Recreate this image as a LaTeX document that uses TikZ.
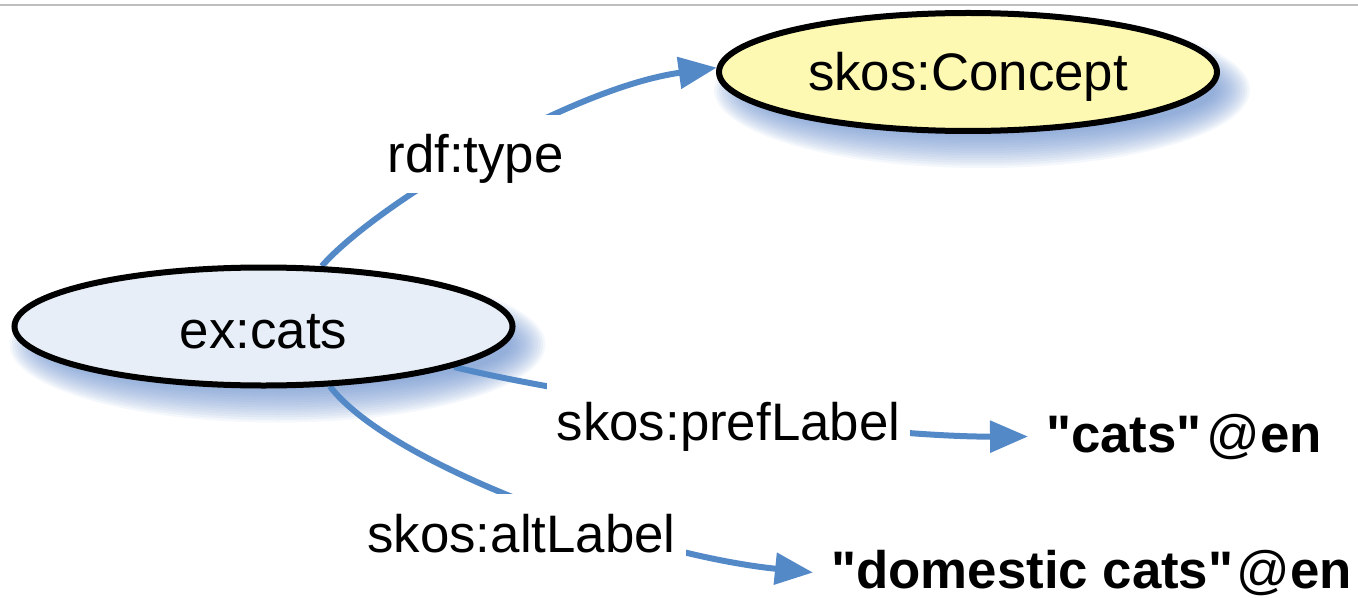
\documentclass[tikz,border=0pt]{standalone}
\usepackage{fontspec}
\newfontfamily\helv{Liberation Sans}
\usetikzlibrary{shapes.geometric,arrows.meta}
\pgfdeclarelayer{shadowlayer}
\pgfdeclarelayer{edgelayer}
\pgfsetlayers{shadowlayer,edgelayer,main}
\definecolor{edgeblue}{RGB}{84,137,200}
\definecolor{shadowblue}{RGB}{95,135,200}
\definecolor{conceptfill}{RGB}{253,249,178}
\definecolor{resfill}{RGB}{232,238,247}
\definecolor{rulegray}{RGB}{190,190,190}
\begin{document}
\begin{tikzpicture}[x=1bp,y=-1bp,
  every node/.style={font=\helv\fontsize{53}{60}\selectfont},
  resource/.style={ellipse, draw=black, line width=6bp, inner sep=0pt,
    minimum width=498bp, minimum height=118bp},
  proplabel/.style={fill=white, inner xsep=10bp, inner ysep=8bp,
    text height=50bp, text depth=12bp},
  literal/.style={inner xsep=18bp, inner ysep=0pt,
    font=\helv\bfseries\fontsize{53}{60}\selectfont},
  relation/.style={draw=edgeblue, line width=6bp},
  arrowrel/.style={relation, -{Triangle[length=38bp,width=31bp]}}]
\useasboundingbox (0,0) rectangle (1358,598);
\draw[rulegray, line width=2bp] (0,5) -- (1358,5);

% resources
\node[resource, fill=conceptfill, text height=38bp, text depth=0pt] (concept) at (968,72) {skos:Concept};
\node[resource, fill=resfill, text height=44bp, text depth=0pt] (cats) at (263.5,326.5) {ex:cats};

% property labels
\node[proplabel, anchor=base] (ptype) at (475.5,173) {rdf:type};
\node[proplabel, anchor=base] (ppref) at (728.5,440) {skos:prefLabel};
\node[proplabel, anchor=base] (palt) at (521.5,552) {skos:altLabel};

% literals
\node[literal, anchor=base west] (lit1) at (1028,452) {"cats"\hspace{5bp}{\mdseries @}en};
\node[literal, anchor=base west] (lit2) at (813,588) {"domestic cats"\hspace{3bp}{\mdseries @}en};

% shadows
\begin{pgfonlayer}{shadowlayer}
\foreach \i in {0,...,14} {
  \fill[shadowblue, opacity=0.07] ([shift={(14,18)}]concept.center) ellipse [x radius={268-2.5*\i}, y radius={78-2.5*\i}];
  \fill[shadowblue, opacity=0.07] ([shift={(14,18)}]cats.center) ellipse [x radius={268-2.5*\i}, y radius={78-2.5*\i}];
}
\end{pgfonlayer}

% relations
\begin{pgfonlayer}{edgelayer}
\draw[arrowrel] (cats.46) .. controls (375,205) and (570,88) .. (concept.179);
\draw[arrowrel] (cats.-12.5) .. controls (600,402) and (880,437) .. (lit1.west);
\draw[arrowrel] (cats.-42) .. controls (390,465) and (640,555) .. (lit2.west);
\end{pgfonlayer}
\end{tikzpicture}
\end{document}
